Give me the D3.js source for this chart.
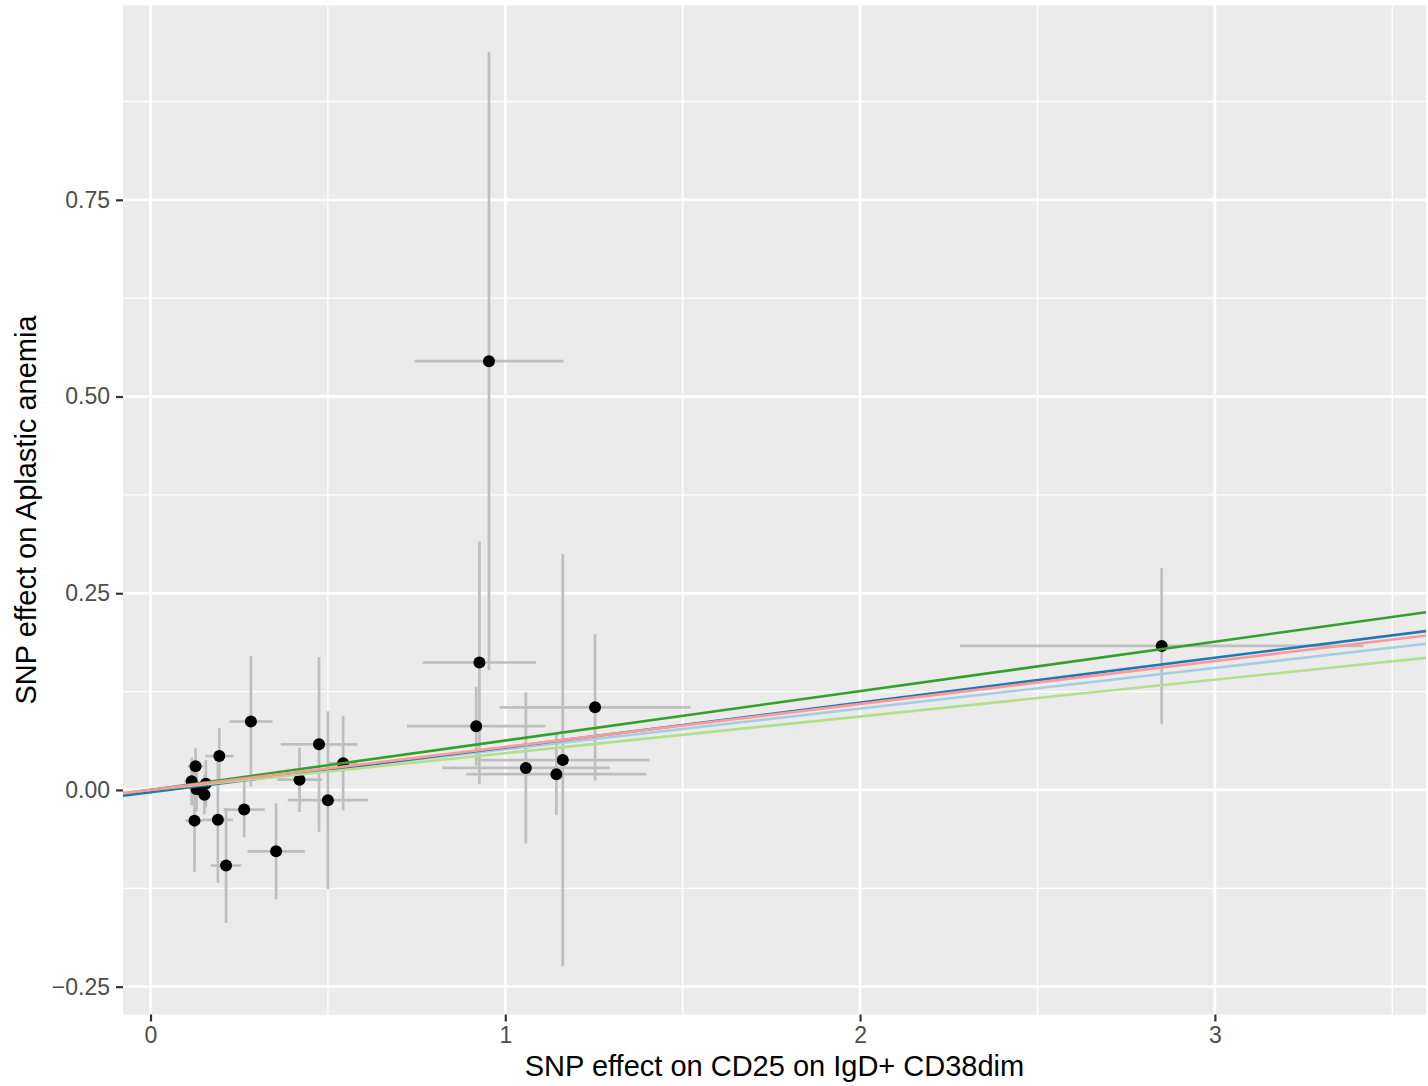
<!DOCTYPE html>
<html>
<head>
<meta charset="utf-8">
<script src="https://cdn.jsdelivr.net/npm/d3@7"></script>
<style>
  html, body { margin: 0; padding: 0; background: #ffffff; }
  svg { display: block; font-family: "Liberation Sans", Arial, Helvetica, sans-serif; }
</style>
</head>
<body>
<svg id="chart" width="1428" height="1086"></svg>
<script>
// ---- Data ----
const snpX  = [0.954, 0.927, 0.918, 1.058, 1.144, 1.162, 1.253, 2.850, 0.283, 0.475, 0.543, 0.420, 0.500, 0.354, 0.264, 0.194, 0.190, 0.213, 0.124, 0.127, 0.116, 0.156, 0.130, 0.152];
const snpY  = [0.545, 0.162, 0.081, 0.028, 0.020, 0.038, 0.105, 0.183, 0.087, 0.058, 0.034, 0.013, -0.013, -0.078, -0.025, 0.043, -0.038, -0.096, -0.039, 0.030, 0.011, 0.008, 0.001, -0.006];
const seX   = [0.210, 0.160, 0.195, 0.236, 0.254, 0.244, 0.269, 0.569, 0.061, 0.108, 0.040, 0.063, 0.113, 0.081, 0.058, 0.040, 0.042, 0.043, 0.025, 0.022, 0.020, 0.022, 0.020, 0.018];
const seY   = [0.393, 0.154, 0.050, 0.096, 0.052, 0.262, 0.093, 0.099, 0.083, 0.111, 0.060, 0.041, 0.113, 0.061, 0.035, 0.036, 0.080, 0.073, 0.065, 0.023, 0.030, 0.030, 0.028, 0.025];

// Regression lines (one per MR method)
const methodNames      = ["Inverse variance weighted", "MR Egger", "Simple mode", "Weighted median", "Weighted mode"];
const methodColors     = ["#a6cee3", "#1f78b4", "#b2df8a", "#33a02c", "#fb9a99"];
const methodSlopes     = [0.0517, 0.0570, 0.0467, 0.0628, 0.0546];
const methodIntercepts = [0, -0.003, 0, 0, 0];

// Axis ticks
const xTicks = [0, 1, 2, 3];
const xTickLabels = ["0", "1", "2", "3"];
const xMinor = [0.5, 1.5, 2.5, 3.5];
const yTicks = [-0.25, 0, 0.25, 0.5, 0.75];
const yTickLabels = ["\u22120.25", "0.00", "0.25", "0.50", "0.75"];
const yMinor = [-0.125, 0.125, 0.375, 0.625, 0.875];

const xTitle = "SNP effect on CD25 on IgD+ CD38dim";
const yTitle = "SNP effect on Aplastic anemia";

// ---- Layout ----
const panel = { left: 123, right: 1426, top: 5.5, bottom: 1014.5 };
const xDomain = [-0.0775, 3.595];
const yDomain = [-0.2854, 0.997];

const svg = d3.select("#chart");
const x = d3.scaleLinear().domain(xDomain).range([panel.left, panel.right]);
const y = d3.scaleLinear().domain(yDomain).range([panel.bottom, panel.top]);

// Panel background
svg.append("rect")
  .attr("x", panel.left).attr("y", panel.top)
  .attr("width", panel.right - panel.left).attr("height", panel.bottom - panel.top)
  .attr("fill", "#ebebeb");

const clipId = "panelClip";
svg.append("clipPath").attr("id", clipId).append("rect")
  .attr("x", panel.left).attr("y", panel.top)
  .attr("width", panel.right - panel.left).attr("height", panel.bottom - panel.top);

const grid = svg.append("g");
// minor grid
grid.selectAll(".xminor").data(xMinor).join("line")
  .attr("x1", d => x(d)).attr("x2", d => x(d))
  .attr("y1", panel.top).attr("y2", panel.bottom)
  .attr("stroke", "#ffffff").attr("stroke-width", 1.3);
grid.selectAll(".yminor").data(yMinor).join("line")
  .attr("y1", d => y(d)).attr("y2", d => y(d))
  .attr("x1", panel.left).attr("x2", panel.right)
  .attr("stroke", "#ffffff").attr("stroke-width", 1.3);
// major grid
grid.selectAll(".xmajor").data(xTicks).join("line")
  .attr("x1", d => x(d)).attr("x2", d => x(d))
  .attr("y1", panel.top).attr("y2", panel.bottom)
  .attr("stroke", "#ffffff").attr("stroke-width", 2.7);
grid.selectAll(".ymajor").data(yTicks).join("line")
  .attr("y1", d => y(d)).attr("y2", d => y(d))
  .attr("x1", panel.left).attr("x2", panel.right)
  .attr("stroke", "#ffffff").attr("stroke-width", 2.7);

const plot = svg.append("g").attr("clip-path", `url(#${clipId})`);
const idx = d3.range(snpX.length);
const errColor = "#bebebe";

// vertical error bars
plot.append("g").selectAll("line").data(idx).join("line")
  .attr("x1", i => x(snpX[i])).attr("x2", i => x(snpX[i]))
  .attr("y1", i => y(snpY[i] - seY[i])).attr("y2", i => y(snpY[i] + seY[i]))
  .attr("stroke", errColor).attr("stroke-width", 2.7);
// horizontal error bars
plot.append("g").selectAll("line").data(idx).join("line")
  .attr("y1", i => y(snpY[i])).attr("y2", i => y(snpY[i]))
  .attr("x1", i => x(snpX[i] - seX[i])).attr("x2", i => x(snpX[i] + seX[i]))
  .attr("stroke", errColor).attr("stroke-width", 2.7);
// points
plot.append("g").selectAll("circle").data(idx).join("circle")
  .attr("cx", i => x(snpX[i])).attr("cy", i => y(snpY[i]))
  .attr("r", 6).attr("fill", "#000000");
// regression lines
plot.append("g").selectAll("line").data(d3.range(methodNames.length)).join("line")
  .attr("x1", x(xDomain[0])).attr("x2", x(xDomain[1]))
  .attr("y1", m => y(methodIntercepts[m] + methodSlopes[m] * xDomain[0]))
  .attr("y2", m => y(methodIntercepts[m] + methodSlopes[m] * xDomain[1]))
  .attr("stroke", m => methodColors[m]).attr("stroke-width", 2.6)
  .append("title").text(m => methodNames[m]);

// ---- Axes ----
const xAxis = d3.axisBottom(x).tickValues(xTicks).tickFormat((d, i) => xTickLabels[i])
  .tickSize(7).tickPadding(5);
const gx = svg.append("g").attr("transform", `translate(0,${panel.bottom})`).call(xAxis);
gx.select(".domain").remove();
gx.selectAll(".tick line").attr("stroke", "#333333").attr("stroke-width", 2.2);
gx.selectAll(".tick text").attr("fill", "#4d4d4d").style("font-size", "23px");

const yAxis = d3.axisLeft(y).tickValues(yTicks).tickFormat((d, i) => yTickLabels[i])
  .tickSize(7).tickPadding(6);
const gy = svg.append("g").attr("transform", `translate(${panel.left},0)`).call(yAxis);
gy.select(".domain").remove();
gy.selectAll(".tick line").attr("stroke", "#333333").attr("stroke-width", 2.2);
gy.selectAll(".tick text").attr("fill", "#4d4d4d").style("font-size", "23px");

// Axis titles
svg.append("text")
  .attr("x", (panel.left + panel.right) / 2).attr("y", 1076)
  .attr("text-anchor", "middle").attr("fill", "#000000")
  .style("font-size", "29px").text(xTitle);
svg.append("text")
  .attr("transform", `translate(36,${(panel.top + panel.bottom) / 2}) rotate(-90)`)
  .attr("text-anchor", "middle").attr("fill", "#000000")
  .style("font-size", "29px").text(yTitle);
</script>
</body>
</html>
